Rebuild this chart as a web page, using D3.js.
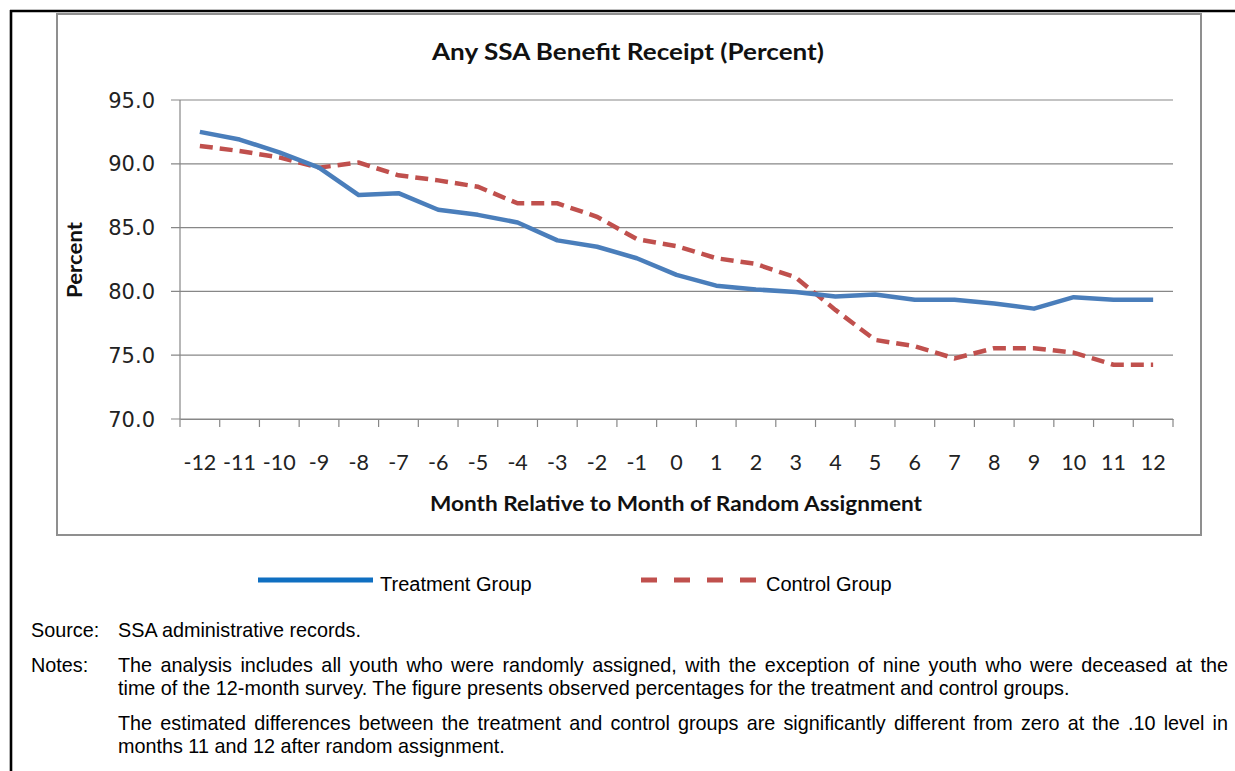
<!DOCTYPE html>
<html><head><meta charset="utf-8">
<script src="https://cdn.jsdelivr.net/npm/d3@7"></script>
<style>body{margin:0;background:#fff}svg{display:block}</style>
</head><body>
<svg id="c" width="1235" height="771"></svg>
<script>
const months = [-12,-11,-10,-9,-8,-7,-6,-5,-4,-3,-2,-1,0,1,2,3,4,5,6,7,8,9,10,11,12];
const treatment = [92.5,91.9,90.9,89.7,87.55,87.7,86.4,86.0,85.4,84.0,83.5,82.6,81.3,80.45,80.15,79.95,79.6,79.75,79.35,79.35,79.05,78.65,79.55,79.35,79.35];
const control = [91.4,91.0,90.5,89.7,90.1,89.1,88.7,88.2,86.9,86.9,85.85,84.1,83.55,82.6,82.15,81.1,78.55,76.2,75.7,74.75,75.55,75.55,75.2,74.25,74.25];
const yTicks = [70,75,80,85,90,95];
const title = "Any SSA Benefit Receipt (Percent)";
const xTitle = "Month Relative to Month of Random Assignment";
const yTitle = "Percent";
const seriesNames = ["Treatment Group","Control Group"];
const noteLines = [
 {label:"Source:", text:"SSA administrative records.", justify:false},
 {label:"Notes:", text:"The analysis includes all youth who were randomly assigned, with the exception of nine youth who were deceased at the", justify:true},
 {label:"", text:"time of the 12-month survey. The figure presents observed percentages for the treatment and control groups.", justify:false},
 {label:"", text:"The estimated differences between the treatment and control groups are significantly different from zero at the .10 level in", justify:true},
 {label:"", text:"months 11 and 12 after random assignment.", justify:false}
];

const svg = d3.select("#c");
const grey = "#878787";

// page frame
svg.append("line").attr("x1",10).attr("x2",1235).attr("y1",11).attr("y2",11).attr("stroke","#000").attr("stroke-width",2.6);
svg.append("line").attr("x1",11).attr("x2",11).attr("y1",10).attr("y2",771).attr("stroke","#000").attr("stroke-width",2.6);
// chart frame
svg.append("rect").attr("x",57).attr("y",14).attr("width",1144).attr("height",521)
  .attr("fill","#fff").attr("stroke","#8f8f8f").attr("stroke-width",2);

const pL = 180, pR = 1173, pT = 100, pB = 419;
const x = d3.scaleBand().domain(months).range([pL,pR]).padding(0);
const y = d3.scaleLinear().domain([70,95]).range([pB,pT]);

// gridlines
svg.append("g").selectAll("line").data(yTicks).join("line")
  .attr("x1",pL-9).attr("x2",pR).attr("y1",d=>y(d)).attr("y2",d=>y(d))
  .attr("stroke",grey).attr("stroke-width",1.2);
// y axis line
svg.append("line").attr("x1",pL).attr("x2",pL).attr("y1",pT).attr("y2",pB).attr("stroke",grey).attr("stroke-width",1.2);
// y tick labels
svg.append("g").selectAll("text").data(yTicks).join("text")
  .attr("x",155).attr("y",d=>y(d)).attr("dy","0.36em").attr("text-anchor","end")
  .attr("font-family","DejaVu Sans").attr("font-size",21).attr("fill","#222")
  .text(d=>d.toFixed(1));

// x axis
const xAxis = d3.axisBottom(x).tickSize(0).tickFormat(d=>d);
const xg = svg.append("g").attr("transform",`translate(0,${pB})`).call(xAxis);
xg.select(".domain").attr("stroke",grey).attr("stroke-width",1.2);
xg.selectAll("text").attr("font-family","Lato").attr("font-size",21.5).attr("fill","#222").attr("y",0).attr("dy","51");
// boundary tick marks
const bounds = months.map(m=>x(m)).concat([pR]);
svg.append("g").selectAll("line").data(bounds).join("line")
  .attr("x1",d=>d).attr("x2",d=>d).attr("y1",pB).attr("y2",pB+8)
  .attr("stroke",grey).attr("stroke-width",1.2);

// titles
svg.append("text").attr("x",628).attr("y",60).attr("text-anchor","middle")
  .attr("font-family","Lato").attr("font-weight","bold").attr("font-size",23.5)
  .attr("textLength",392).attr("lengthAdjust","spacingAndGlyphs").attr("fill","#111").text(title);
svg.append("text").attr("x",676).attr("y",511).attr("text-anchor","middle")
  .attr("font-family","Lato").attr("font-weight","bold").attr("font-size",20.5)
  .attr("textLength",492).attr("lengthAdjust","spacingAndGlyphs").attr("fill","#111").text(xTitle);
svg.append("text").attr("transform","translate(82,260) rotate(-90)").attr("text-anchor","middle")
  .attr("font-family","Lato").attr("font-weight","bold").attr("font-size",20)
  .attr("textLength",76).attr("lengthAdjust","spacingAndGlyphs").attr("fill","#111").text(yTitle);

// lines
const line = d3.line().x((d,i)=>x(months[i])+x.bandwidth()/2).y(d=>y(d));
svg.append("path").datum(control).attr("d",line).attr("fill","none")
  .attr("stroke","#c0504d").attr("stroke-width",4.5).attr("stroke-dasharray","13,7");
svg.append("path").datum(treatment).attr("d",line).attr("fill","none")
  .attr("stroke","#4a7ebb").attr("stroke-width",4.5).attr("stroke-linejoin","round");

// legend
const lg = svg.append("g");
lg.append("line").attr("x1",258).attr("x2",373).attr("y1",580).attr("y2",580).attr("stroke","#0f6fc1").attr("stroke-width",5);
lg.append("text").attr("x",380).attr("y",591).attr("font-family","Liberation Sans").attr("font-size",20).attr("fill","#000").text(seriesNames[0]);
lg.append("line").attr("x1",641).attr("x2",756).attr("y1",580).attr("y2",580).attr("stroke","#c0504d").attr("stroke-width",5).attr("stroke-dasharray","16,17");
lg.append("text").attr("x",766).attr("y",591).attr("font-family","Liberation Sans").attr("font-size",20).attr("fill","#000").text(seriesNames[1]);

// notes
const lineYs = [637,672,695,730,753];
noteLines.forEach((n,i)=>{
  if(n.label) svg.append("text").attr("x",31).attr("y",lineYs[i]).attr("font-family","Liberation Sans").attr("font-size",19.8).text(n.label);
  const t = svg.append("text").attr("x",118).attr("y",lineYs[i]).attr("font-family","Liberation Sans").attr("font-size",19.8).text(n.text);
  if(n.justify){
    const len = t.node().getComputedTextLength();
    const spaces = (n.text.match(/ /g)||[]).length;
    t.attr("word-spacing",((1228-118)-len)/spaces);
  }
});
</script>
</body></html>
